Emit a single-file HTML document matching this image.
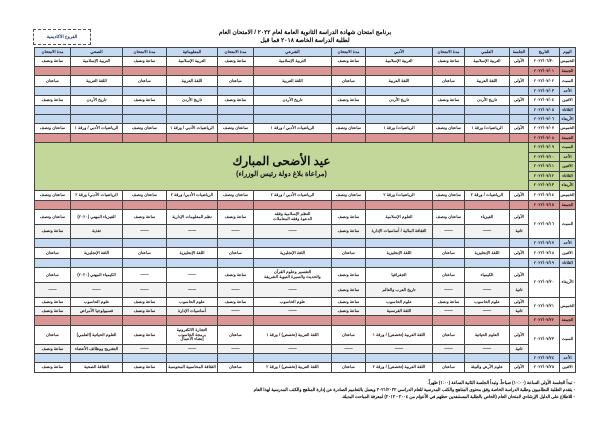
<!DOCTYPE html>
<html><head><meta charset="utf-8"><style>
body{margin:0;width:600px;height:426px;background:#fff;position:relative;overflow:hidden;font-family:"Liberation Sans","Noto Sans CJK SC",sans-serif}
.t{position:absolute;font-weight:bold;white-space:nowrap;direction:rtl}
table{position:absolute;left:34px;top:47px;width:541px;border-collapse:collapse;table-layout:fixed;direction:rtl}
td{border:0.7px solid #444;font-size:4.2px;text-align:center;padding:0;line-height:4.6px;overflow:hidden;font-weight:bold;color:#111}
.h td{background:#c5d9f1}
.r td{background:#da9694}
.b td{background:#c5d9f1}
.g td{background:#f2f2f2}
td.d{background:#fff}
.r td.d{background:#da9694}
.b td.d{background:#c5d9f1}
.gr td.d{background:#c4d79b}
td.grn{background:#c4d79b}
</style></head><body>
<div style="position:absolute;left:33px;top:29px;width:56px;height:14px;border:1px dashed #555;font-size:4.5px;font-weight:bold;color:#1f3864;text-align:center;line-height:14px">الفروع الاكاديمية</div>
<div class="t" style="left:200px;top:29px;width:210px;text-align:center;font-size:6px">برنامج امتحان شهادة الدراسة الثانوية العامة  لعام ٢٠٢٢ / الامتحان العام</div>
<div class="t" style="left:230px;top:37px;width:150px;text-align:center;font-size:6px">لطلبة الدراسة الخاصة ٢٠١٨ فما قبل</div>
<table>
<colgroup><col style="width:16px"><col style="width:31px"><col style="width:19px"><col style="width:45px"><col style="width:32px"><col style="width:67px"><col style="width:34px"><col style="width:78px"><col style="width:36px"><col style="width:51px"><col style="width:44px"><col style="width:52px"><col style="width:36px"></colgroup>
<tr class="h" style="height:9px"><td>اليوم</td><td>التاريخ</td><td>الجلسة</td><td>العلمي</td><td>مدة الامتحان</td><td>الأدبي</td><td>مدة الامتحان</td><td>الشرعي</td><td>مدة الامتحان</td><td>المعلوماتية</td><td>مدة الامتحان</td><td>الصحي</td><td>مدة الامتحان</td></tr>
<tr style="height:10px"><td class="d">الخميس</td><td class="d">٢٠٢٢/٠٦/٣٠</td><td>الأولى</td><td>التربية الإسلامية</td><td>ساعة ونصف</td><td>التربية الإسلامية</td><td>ساعة ونصف</td><td>التربية الإسلامية</td><td>ساعة ونصف</td><td>التربية الإسلامية</td><td>ساعة ونصف</td><td>التربية الإسلامية</td><td>ساعة ونصف</td></tr>
<tr class="r" style="height:9px"><td class="d">الجمعة</td><td class="d">٢٠٢٢/٠٧/٠١</td><td></td><td></td><td></td><td></td><td></td><td></td><td></td><td></td><td></td><td></td><td></td></tr>
<tr style="height:11px"><td class="d">السبت</td><td class="d">٢٠٢٢/٠٧/٠٢</td><td>الأولى</td><td>اللغة العربية</td><td>ساعتان</td><td>اللغة العربية</td><td>ساعتان</td><td>اللغة العربية</td><td>ساعتان</td><td>اللغة العربية</td><td>ساعتان</td><td>اللغة العربية</td><td>ساعتان</td></tr>
<tr class="b" style="height:9px"><td class="d">الأحد</td><td class="d">٢٠٢٢/٠٧/٠٣</td><td></td><td></td><td></td><td></td><td></td><td></td><td></td><td></td><td></td><td></td><td></td></tr>
<tr style="height:10px"><td class="d">الاثنين</td><td class="d">٢٠٢٢/٠٧/٠٤</td><td>الأولى</td><td>تاريخ الأردن</td><td>ساعة ونصف</td><td>تاريخ الأردن</td><td>ساعة ونصف</td><td>تاريخ الأردن</td><td>ساعة ونصف</td><td>تاريخ الأردن</td><td>ساعة ونصف</td><td>تاريخ الأردن</td><td>ساعة ونصف</td></tr>
<tr class="b" style="height:9px"><td class="d">الثلاثاء</td><td class="d">٢٠٢٢/٠٧/٠٥</td><td></td><td></td><td></td><td></td><td></td><td></td><td></td><td></td><td></td><td></td><td></td></tr>
<tr class="b" style="height:9px"><td class="d">الأربعاء</td><td class="d">٢٠٢٢/٠٧/٠٦</td><td></td><td></td><td></td><td></td><td></td><td></td><td></td><td></td><td></td><td></td><td></td></tr>
<tr style="height:10px"><td class="d">الخميس</td><td class="d">٢٠٢٢/٠٧/٠٧</td><td>الأولى</td><td>الرياضيات/ ورقة ١</td><td>ساعتان ونصف</td><td>الرياضيات/ ورقة ١</td><td>ساعتان ونصف</td><td>الرياضيات الأدبي / ورقة ١</td><td>ساعتان ونصف</td><td>الرياضيات الأدبي / ورقة ١</td><td>ساعتان ونصف</td><td>الرياضيات الأدبي / ورقة ١</td><td>ساعتان ونصف</td></tr>
<tr class="r" style="height:9px"><td class="d">الجمعة</td><td class="d">٢٠٢٢/٠٧/٠٨</td><td></td><td></td><td></td><td></td><td></td><td></td><td></td><td></td><td></td><td></td><td></td></tr>
<tr class="gr" style="height:9.6px"><td class="d">السبت</td><td class="d">٢٠٢٢/٠٧/٠٩</td><td class="grn" colspan="11" rowspan="5" style="line-height:normal"><div style="font-size:12px;font-family:'Liberation Serif','Noto Serif CJK SC',serif">عيد الأضحى المبارك</div><div style="font-size:7px;margin-top:1px">(مراعاة بلاغ دولة رئيس الوزراء)</div></td></tr>
<tr class="gr" style="height:9.6px"><td class="d">الأحد</td><td class="d">٢٠٢٢/٠٧/١٠</td></tr>
<tr class="gr" style="height:9.6px"><td class="d">الاثنين</td><td class="d">٢٠٢٢/٠٧/١١</td></tr>
<tr class="gr" style="height:9.6px"><td class="d">الثلاثاء</td><td class="d">٢٠٢٢/٠٧/١٢</td></tr>
<tr class="gr" style="height:9.6px"><td class="d">الأربعاء</td><td class="d">٢٠٢٢/٠٧/١٣</td></tr>
<tr style="height:10px"><td class="d">الخميس</td><td class="d">٢٠٢٢/٠٧/١٤</td><td>الأولى</td><td>الرياضيات / ورقة ٢</td><td>ساعتان ونصف</td><td>الرياضيات/ ورقة ٢</td><td>ساعتان ونصف</td><td>الرياضيات الأدبي / ورقة ٢</td><td>ساعتان ونصف</td><td>الرياضيات الأدبي/ ورقة ٢</td><td>ساعتان ونصف</td><td>الرياضيات الأدبي/ ورقة ٢</td><td>ساعتان ونصف</td></tr>
<tr class="r" style="height:9px"><td class="d">الجمعة</td><td class="d">٢٠٢٢/٠٧/١٥</td><td></td><td></td><td></td><td></td><td></td><td></td><td></td><td></td><td></td><td></td><td></td></tr>
<tr style="height:15px"><td class="d" rowspan="2">السبت</td><td class="d" rowspan="2">٢٠٢٢/٠٧/١٦</td><td>الأولى</td><td>الفيزياء</td><td>ساعتان ونصف</td><td>العلوم الإسلامية</td><td>ساعة ونصف</td><td>النظم الإسلامية وفقه<br>الدعوة وفقه المعاملات</td><td>ساعة ونصف</td><td>نظم المعلومات الإدارية</td><td>ساعة ونصف</td><td>الفيزياء المهني (٢٠٢٠)</td><td>ساعتان ونصف</td></tr>
<tr class="g" style="height:14px"><td>ثانية</td><td>——</td><td>——</td><td>الثقافة المالية / أساسيات الإدارة</td><td>ساعة ونصف</td><td>——</td><td>——</td><td>——</td><td>——</td><td>تغذية</td><td>ساعة ونصف</td></tr>
<tr class="b" style="height:9px"><td class="d">الأحد</td><td class="d">٢٠٢٢/٠٧/١٧</td><td></td><td></td><td></td><td></td><td></td><td></td><td></td><td></td><td></td><td></td><td></td></tr>
<tr style="height:11px"><td class="d">الاثنين</td><td class="d">٢٠٢٢/٠٧/١٨</td><td>الأولى</td><td>اللغة الإنجليزية</td><td>ساعتان</td><td>اللغة الإنجليزية</td><td>ساعتان</td><td>اللغة الإنجليزية</td><td>ساعتان</td><td>اللغة الإنجليزية</td><td>ساعتان</td><td>اللغة الإنجليزية</td><td>ساعتان</td></tr>
<tr class="b" style="height:9px"><td class="d">الثلاثاء</td><td class="d">٢٠٢٢/٠٧/١٩</td><td></td><td></td><td></td><td></td><td></td><td></td><td></td><td></td><td></td><td></td><td></td></tr>
<tr style="height:15px"><td class="d" rowspan="2">الأربعاء</td><td class="d" rowspan="2">٢٠٢٢/٠٧/٢٠</td><td>الأولى</td><td>الكيمياء</td><td>ساعتان</td><td>الجغرافيا</td><td>ساعة ونصف</td><td>التفسير وعلوم القرآن<br>والحديث والسيرة النبوية الشريفة</td><td>ساعة ونصف</td><td>——</td><td>——</td><td>الكيمياء المهني (٢٠٢٠)</td><td>ساعتان</td></tr>
<tr class="g" style="height:15px"><td>ثانية</td><td>——</td><td>——</td><td>تاريخ العرب والعالم</td><td>ساعة ونصف</td><td>——</td><td>——</td><td>——</td><td>——</td><td>——</td><td>——</td></tr>
<tr style="height:9px"><td class="d" rowspan="2">الخميس</td><td class="d" rowspan="2">٢٠٢٢/٠٧/٢١</td><td>الأولى</td><td>علوم الحاسوب</td><td>ساعة ونصف</td><td>علوم الحاسوب</td><td>ساعة ونصف</td><td>علوم الحاسوب</td><td>ساعة ونصف</td><td>علوم الحاسوب</td><td>ساعة ونصف</td><td>علوم الحاسوب</td><td>ساعة ونصف</td></tr>
<tr class="g" style="height:9px"><td>ثانية</td><td>——</td><td>——</td><td>اللغة الفرنسية</td><td>ساعة ونصف</td><td>——</td><td>——</td><td>أساسيات الإدارة</td><td>ساعة ونصف</td><td>فسيولوجيا الأمراض</td><td>ساعة ونصف</td></tr>
<tr class="r" style="height:10px"><td class="d">الجمعة</td><td class="d">٢٠٢٢/٠٧/٢٢</td><td></td><td></td><td></td><td></td><td></td><td></td><td></td><td></td><td></td><td></td><td></td></tr>
<tr style="height:19px"><td class="d" rowspan="2">السبت</td><td class="d" rowspan="2">٢٠٢٢/٠٧/٢٣</td><td>الأولى</td><td>العلوم الحياتية</td><td>ساعتان</td><td>اللغة العربية (تخصص) / ورقة ١</td><td>ساعتان</td><td>اللغة العربية (تخصص) / ورقة ١</td><td>ساعتان</td><td>التجارة الالكترونية<br>برمجة الحاسوب<br>إنشاء الأعمال</td><td>ساعة ونصف</td><td>العلوم الحياتية (العلمي)</td><td>ساعتان</td></tr>
<tr class="g" style="height:9px"><td>ثانية</td><td>——</td><td>——</td><td>——</td><td>——</td><td>——</td><td>——</td><td>——</td><td>——</td><td>التشريح ووظائف الأعضاء</td><td>ساعة ونصف</td></tr>
<tr class="b" style="height:9px"><td class="d">الأحد</td><td class="d">٢٠٢٢/٠٧/٢٤</td><td></td><td></td><td></td><td></td><td></td><td></td><td></td><td></td><td></td><td></td><td></td></tr>
<tr style="height:10px"><td class="d">الاثنين</td><td class="d">٢٠٢٢/٠٧/٢٥</td><td>الأولى</td><td>علوم الأرض والبيئة</td><td>ساعتان</td><td>اللغة العربية (تخصص) / ورقة ٢</td><td>ساعتان</td><td>اللغة العربية (تخصص) / ورقة ٢</td><td>ساعتان</td><td>الثقافة المحاسبية المحوسبة</td><td>ساعة ونصف</td><td>الثقافة الصحية</td><td>ساعة ونصف</td></tr>
</table>
<div class="t" style="right:25px;top:380px;font-size:4.3px">- تبدأ الجلسة الأولى الساعة (١٠:٠٠) صباحاً، وتبدأ الجلسة الثانية الساعة (١:٠٠) ظهراً.</div>
<div class="t" style="right:25px;top:387px;font-size:4.3px">- يتقدم الطلبة النظاميون وطلبة الدراسة الخاصة وفق محتوى المناهج والكتب المدرسية للعام الدراسي ٢٠٢١/٢٠٢٢ ويعمل بالتعاميم الصادرة عن إدارة المناهج والكتب المدرسية لهذا العام</div>
<div class="t" style="right:25px;top:394px;font-size:4.3px">- للاطلاع على الدليل الإرشادي لامتحان العام (الخاص بالطلبة المستنفدين حظهم في الأعوام من ٢٠٠٤ - ٢٠١٢) لمعرفة المباحث البديلة.</div>
</body></html>
